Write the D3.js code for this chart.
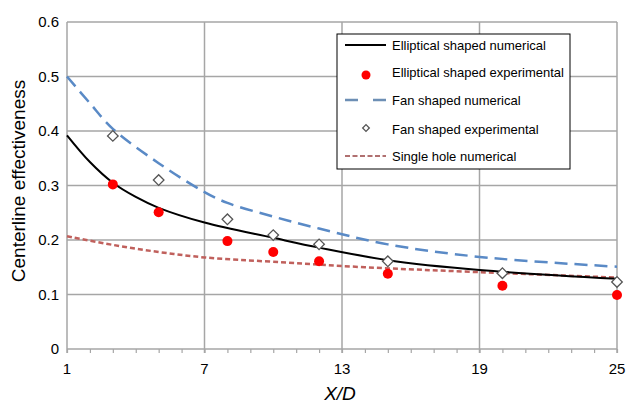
<!DOCTYPE html>
<html>
<head>
<meta charset="utf-8">
<script src="https://cdn.jsdelivr.net/npm/d3@7"></script>
<style>
  body { margin: 0; background: #fff; }
  text { font-family: "Liberation Sans", Arial, sans-serif; }
</style>
</head>
<body>
<div id="chart"></div>
<script>
// curves
var ellipticalNumX = [1, 2, 3, 4, 5, 7, 10, 12, 15, 19, 25];
var ellipticalNumY = [0.392, 0.343, 0.305, 0.279, 0.259, 0.232, 0.204, 0.186, 0.163, 0.145, 0.129];

var fanNumX = [1, 2, 3, 5, 7, 8, 10, 12, 15, 19, 25];
var fanNumY = [0.500, 0.451, 0.404, 0.341, 0.288, 0.268, 0.243, 0.221, 0.192, 0.169, 0.151];

var singleNumX = [1, 3, 5, 7, 10, 14, 19, 25];
var singleNumY = [0.207, 0.191, 0.178, 0.168, 0.160, 0.150, 0.141, 0.131];

// experimental points
var expX = [3, 5, 8, 10, 12, 15, 20, 25];
var ellipticalExpY = [0.302, 0.251, 0.198, 0.178, 0.161, 0.138, 0.116, 0.099];
var fanExpY = [0.391, 0.310, 0.238, 0.209, 0.192, 0.161, 0.139, 0.123];

var xTicks = [1, 7, 13, 19, 25];
var yTicks = [0, 0.1, 0.2, 0.3, 0.4, 0.5, 0.6];

var legendLabels = ["Elliptical shaped numerical", "Elliptical shaped experimental",
  "Fan shaped numerical", "Fan shaped experimental", "Single hole numerical"];

var margin = {top: 22, right: 10, bottom: 56, left: 67},
    width = 627 - margin.left - margin.right,
    height = 405 - margin.top - margin.bottom;

var svg = d3.select("#chart").append("svg")
    .attr("width", 627)
    .attr("height", 405)
  .append("g")
    .attr("transform", "translate(" + margin.left + "," + margin.top + ")");

var x = d3.scaleLinear().domain([1, 25]).range([0, width]);
var y = d3.scaleLinear().domain([0, 0.6]).range([height, 0]);

var gridColor = "#a6a6a6";

// minor ticks below the x axis
svg.append("g")
    .attr("transform", "translate(0," + height + ")")
    .call(d3.axisBottom(x).tickValues(d3.range(1, 26)).tickSize(4).tickFormat(""))
    .call(function(g) { g.select(".domain").remove(); })
    .selectAll("line").attr("stroke", gridColor).attr("stroke-width", 1.2);

// grid
svg.append("g")
    .selectAll("line.h")
    .data(yTicks)
  .enter().append("line")
    .attr("x1", 0).attr("x2", width)
    .attr("y1", function(d) { return y(d); })
    .attr("y2", function(d) { return y(d); })
    .attr("stroke", gridColor).attr("stroke-width", 1.5);

svg.append("g")
    .selectAll("line.v")
    .data(xTicks)
  .enter().append("line")
    .attr("x1", function(d) { return x(d); })
    .attr("x2", function(d) { return x(d); })
    .attr("y1", 0).attr("y2", height + 4)
    .attr("stroke", gridColor).attr("stroke-width", 1.5);

// tick labels
svg.append("g")
    .selectAll("text")
    .data(xTicks)
  .enter().append("text")
    .attr("x", function(d) { return x(d); })
    .attr("y", height + 25)
    .attr("text-anchor", "middle")
    .style("font-size", "15px")
    .text(function(d) { return d; });

svg.append("g")
    .selectAll("text")
    .data(yTicks)
  .enter().append("text")
    .attr("x", -8)
    .attr("y", function(d) { return y(d); })
    .attr("dy", "0.35em")
    .attr("text-anchor", "end")
    .style("font-size", "15px")
    .text(function(d) { return d3.format(".1~f")(d); });

// axis titles
svg.append("text")
    .attr("transform", "translate(" + (18 - margin.left) + "," + (181 - margin.top) + ") rotate(-90)")
    .attr("dy", "0.35em")
    .attr("text-anchor", "middle")
    .style("font-size", "19px")
    .text("Centerline effectiveness");

svg.append("text")
    .attr("x", 340 - margin.left)
    .attr("y", 400 - margin.top)
    .attr("text-anchor", "middle")
    .style("font-size", "19px")
    .style("font-style", "italic")
    .text("X/D");

// lines
var line = d3.line()
    .x(function(d) { return x(d[0]); })
    .y(function(d) { return y(d[1]); })
    .curve(d3.curveCatmullRom.alpha(0.5));

function pairs(xs, ys) { return xs.map(function(v, i) { return [v, ys[i]]; }); }

svg.append("path")
    .datum(pairs(singleNumX, singleNumY))
    .attr("fill", "none")
    .attr("stroke", "#c0605c")
    .attr("stroke-width", 2.5)
    .attr("stroke-dasharray", "5,3")
    .attr("d", line);

svg.append("path")
    .datum(pairs(fanNumX, fanNumY))
    .attr("fill", "none")
    .attr("stroke", "#5a8ac6")
    .attr("stroke-width", 2.5)
    .attr("stroke-dasharray", "13,7")
    .attr("d", line);

svg.append("path")
    .datum(pairs(ellipticalNumX, ellipticalNumY))
    .attr("fill", "none")
    .attr("stroke", "#000")
    .attr("stroke-width", 2)
    .attr("d", line);

svg.append("g")
    .selectAll("path")
    .data(pairs(expX, fanExpY))
  .enter().append("path")
    .attr("transform", function(d) { return "translate(" + x(d[0]) + "," + y(d[1]) + ") rotate(45)"; })
    .attr("d", d3.symbol().type(d3.symbolSquare).size(56))
    .attr("fill", "#fff")
    .attr("stroke", "#555")
    .attr("stroke-width", 1.3);

svg.append("g")
    .selectAll("circle")
    .data(pairs(expX, ellipticalExpY))
  .enter().append("circle")
    .attr("cx", function(d) { return x(d[0]); })
    .attr("cy", function(d) { return y(d[1]); })
    .attr("r", 5)
    .attr("fill", "#ff0000");

// legend
var legend = svg.append("g")
    .attr("transform", "translate(" + (337 - margin.left) + "," + (34 - margin.top) + ")");

legend.append("rect")
    .attr("width", 233).attr("height", 135)
    .attr("fill", "#fff")
    .attr("stroke", "#000")
    .attr("stroke-width", 1);

var rowY = [11, 38, 66, 95, 122];

legend.selectAll("text")
    .data(legendLabels)
  .enter().append("text")
    .attr("x", 55)
    .attr("y", function(d, i) { return rowY[i]; })
    .attr("dy", "0.35em")
    .style("font-size", "13px")
    .text(function(d) { return d; });

legend.append("line")
    .attr("x1", 8).attr("x2", 49).attr("y1", rowY[0]).attr("y2", rowY[0])
    .attr("stroke", "#000").attr("stroke-width", 2);
legend.append("circle")
    .attr("cx", 29).attr("cy", rowY[1] + 3).attr("r", 4.5)
    .attr("fill", "#ff0000");
legend.append("line")
    .attr("x1", 8).attr("x2", 49).attr("y1", rowY[2]).attr("y2", rowY[2])
    .attr("stroke", "#6d8fb5").attr("stroke-width", 2.5)
    .attr("stroke-dasharray", "13,15");
legend.append("path")
    .attr("transform", "translate(29," + (rowY[3] - 1) + ") rotate(45)")
    .attr("d", d3.symbol().type(d3.symbolSquare).size(22))
    .attr("fill", "#fff").attr("stroke", "#555").attr("stroke-width", 1.3);
legend.append("line")
    .attr("x1", 8).attr("x2", 49).attr("y1", rowY[4]).attr("y2", rowY[4])
    .attr("stroke", "#b07070").attr("stroke-width", 2)
    .attr("stroke-dasharray", "5,2.5");
</script>
</body>
</html>
